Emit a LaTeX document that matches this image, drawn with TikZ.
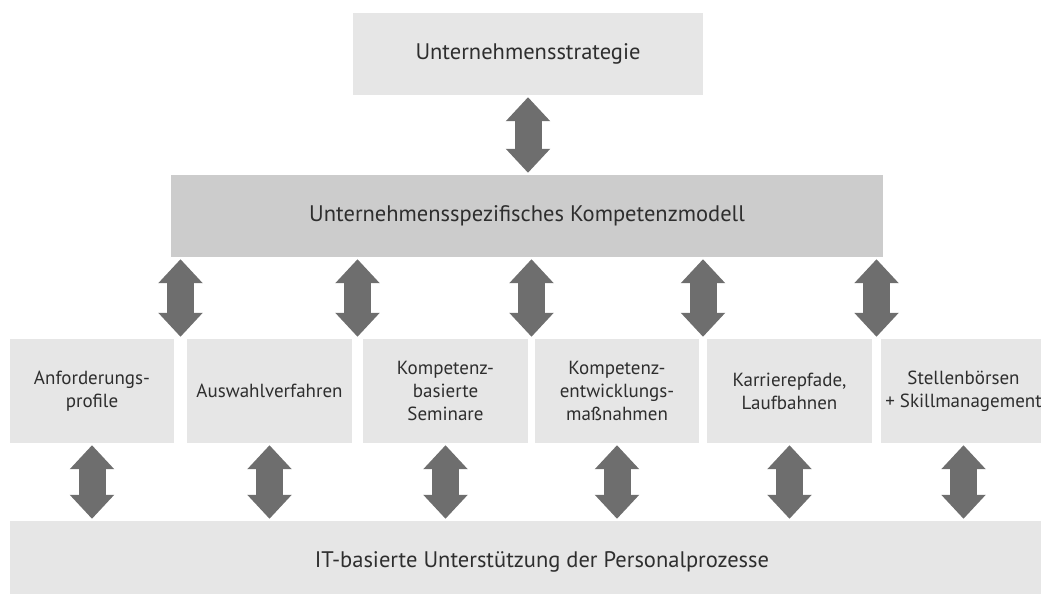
\documentclass[tikz,border=0pt]{standalone}
\usepackage{fontspec}
\setmainfont{PT Sans}
\usetikzlibrary{arrows.meta}

\definecolor{boxgray}{HTML}{E6E6E6}
\definecolor{bargray}{HTML}{CCCCCC}
\definecolor{arrowgray}{HTML}{6E6E6E}
\definecolor{textgray}{HTML}{2E2E2E}

\begin{document}
\begin{tikzpicture}[x=1pt, y=-1pt,
    box/.style={fill=boxgray, inner sep=0pt, align=center, text=textgray},
    smallbox/.style={box, minimum width=165pt, minimum height=104pt, font=\fontsize{19}{23}\selectfont},
    bigbox/.style={box, minimum height=82pt, font=\fontsize{22.5}{26}\selectfont},
    twoway/.style={draw=arrowgray, line width=27pt,
        {Triangle[width=43pt,length=24pt]}-{Triangle[width=43pt,length=24pt]},
        shorten <=2pt, shorten >=2pt}]
    \clip (0,0) rectangle (1041,594);

    % strategy and model
    \node[bigbox, minimum width=350pt] (strat) at (528,54) {Unternehmensstrategie};
    \node[bigbox, fill=bargray, minimum width=712pt] (modell) at (527,216) {Unternehmensspezifisches Kompetenzmodell};

    % HR instruments
    \node[smallbox, minimum width=164pt] (anf) at (92,391) {Anforderungs-\\profile};
    \node[smallbox] (ausw) at (269.5,391) {Auswahlverfahren};
    \node[smallbox] (sem) at (445.5,391) {Kompetenz-\\basierte\\Seminare};
    \node[smallbox, minimum width=164pt] (entw) at (617,391) {Kompetenz-\\entwicklungs-\\maßnahmen};
    \node[smallbox] (karr) at (789.5,391) {Karrierepfade,\\Laufbahnen};
    \node[smallbox] (stell) at (963.5,391) {Stellenbörsen\\+ Skillmanagement};

    \node[bigbox, minimum width=1065pt] (it) at (542,562) {IT-basierte Unterstützung der Personalprozesse};

    % double arrows
    \draw[twoway] (strat.south) -- (strat.south |- modell.north);
    \foreach \a/\b [count=\i] in {anf/ausw, ausw/sem, sem/entw, entw/karr, karr/stell} {
        \path (\a.north east) -- (\b.north west) coordinate[midway] (g\i);
        \draw[twoway] (g\i |- modell.south) -- (g\i);
    }
    \foreach \n in {anf, ausw, sem, entw, karr, stell}
        \draw[twoway] (\n.south) -- (\n.south |- it.north);
\end{tikzpicture}
\end{document}
